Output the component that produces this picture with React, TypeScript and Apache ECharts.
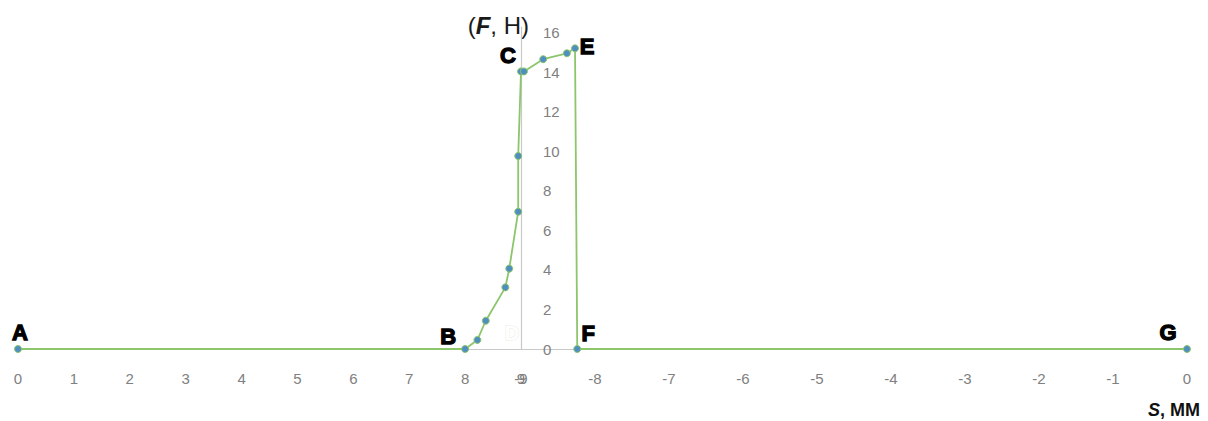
import React, { useEffect, useRef } from "react";
import * as echarts from "echarts";

// Left half of the path (S in mm from 0 to 9), F in H
const leftS = [0, 8, 8.22, 8.37, 8.72, 8.79, 8.95, 8.95, 9.0];
const leftF = [0, 0, 0.46, 1.43, 3.12, 4.07, 6.95, 9.77, 14.05];
const leftNames = ["A", "B", "", "", "", "", "", "", "C"];

// Right half of the path (S in mm from -9 back to 0)
const rightS = [-8.96, -8.7, -8.38, -8.27, -8.24, 0];
const rightF = [14.05, 14.67, 14.97, 15.22, 0, 0];
const rightNames = ["", "", "", "E", "F", "G"];

const leftTicks = { min: 0, max: 9, interval: 1 };
const rightTicks = { min: -9, max: 0, interval: 1 };
const yTicks = { min: 0, max: 16.3, interval: 2 };

const labelOffsets: Record<string, number[]> = {
  A: [2, -17],
  B: [-17, -13],
  C: [-13, -16],
  E: [12, -2],
  F: [11, -16],
  G: [-19, -17],
};

const LINE = "#8cc56a";
const DOT = "#4f8fbf";
const AXIS = "#c8c8c8";
const TXT = "#808080";
const FONT = "Liberation Sans, Arial, sans-serif";

function buildData(xs: number[], ys: number[], names: string[]) {
  return xs.map((x, i) => {
    const n = names[i];
    const item: any = { value: [x, ys[i]] };
    if (n) {
      item.label = {
        show: true,
        formatter: n,
        position: "inside",
        offset: labelOffsets[n],
        fontFamily: FONT,
        fontWeight: 900,
        fontSize: 22,
        color: "#000",
        textBorderColor: "#000",
        textBorderWidth: 1.3,
      };
    }
    return item;
  });
}

export default function App() {
  const ref = useRef<HTMLDivElement>(null);
  useEffect(() => {
    if (!ref.current) return;
    const chart = echarts.init(ref.current, null, { renderer: "svg" });
    const axisLabelStyle = {
      color: TXT,
      fontSize: 15,
      fontFamily: FONT,
    };
    const seriesCommon = {
      type: "line",
      symbol: "circle",
      symbolSize: 7,
      lineStyle: { color: LINE, width: 1.8 },
      itemStyle: { color: DOT, borderColor: LINE, borderWidth: 1 },
      z: 5,
    };
    chart.setOption({
      animation: false,
      backgroundColor: "#ffffff",
      grid: [
        { left: 18, width: 503, top: 27, height: 322 },
        { left: 521, width: 666, top: 27, height: 322 },
      ],
      xAxis: [
        {
          type: "value",
          gridIndex: 0,
          ...leftTicks,
          axisLine: { show: true, lineStyle: { color: AXIS, width: 1.2 } },
          axisTick: { show: false },
          splitLine: { show: false },
          axisLabel: { ...axisLabelStyle, margin: 22, showMinLabel: true, showMaxLabel: true },
        },
        {
          type: "value",
          gridIndex: 1,
          ...rightTicks,
          axisLine: { show: true, lineStyle: { color: AXIS, width: 1.2 } },
          axisTick: { show: false },
          splitLine: { show: false },
          axisLabel: { ...axisLabelStyle, margin: 22, showMinLabel: true, showMaxLabel: true },
        },
      ],
      yAxis: [
        {
          type: "value",
          gridIndex: 0,
          ...yTicks,
          show: false,
        },
        {
          type: "value",
          gridIndex: 1,
          ...yTicks,
          position: "left",
          axisLine: { show: true, onZero: false, lineStyle: { color: AXIS, width: 1.2 } },
          axisTick: { show: false },
          splitLine: { show: false },
          axisLabel: {
            ...axisLabelStyle,
            inside: true,
            margin: 22,
            showMaxLabel: false,
          },
        },
      ],
      series: [
        {
          ...seriesCommon,
          name: "left",
          xAxisIndex: 0,
          yAxisIndex: 0,
          data: buildData(leftS, leftF, leftNames),
        },
        {
          ...seriesCommon,
          name: "right",
          xAxisIndex: 1,
          yAxisIndex: 1,
          data: buildData(rightS, rightF, rightNames),
        },
      ],
      graphic: [
        {
          type: "text",
          x: 529,
          y: 25,
          style: {
            text: "{n|(}{i|F}{n|, H)}",
            textAlign: "right",
            textVerticalAlign: "middle",
            rich: {
              i: {
                fontStyle: "italic",
                fontWeight: "bold",
                fontSize: 24,
                fontFamily: FONT,
                fill: "#1a1a1a",
              },
              n: {
                fontSize: 24,
                fontFamily: FONT,
                fill: "#1a1a1a",
                textStroke: "#1a1a1a",
                textStrokeWidth: 0.5,
              },
            },
          },
        },
        {
          type: "text",
          x: 1200,
          y: 410,
          style: {
            text: "{i|S}{n|, MM}",
            textAlign: "right",
            textVerticalAlign: "middle",
            rich: {
              i: {
                fontStyle: "italic",
                fontWeight: "bold",
                fontSize: 18,
                fontFamily: FONT,
                fill: "#111",
              },
              n: {
                fontWeight: "bold",
                fontSize: 18,
                fontFamily: FONT,
                fill: "#111",
              },
            },
          },
        },
        {
          type: "text",
          x: 512,
          y: 333,
          style: {
            text: "D",
            textAlign: "center",
            textVerticalAlign: "middle",
            fontSize: 20,
            fontWeight: "bold",
            fontFamily: FONT,
            fill: "#ffffff",
            stroke: "#f1ece2",
            lineWidth: 1,
          },
        },
      ],
    });
    return () => chart.dispose();
  }, []);
  return (
    <div
      ref={ref}
      style={{ position: "absolute", left: 0, top: 0, width: 1208, height: 421 }}
    />
  );
}
